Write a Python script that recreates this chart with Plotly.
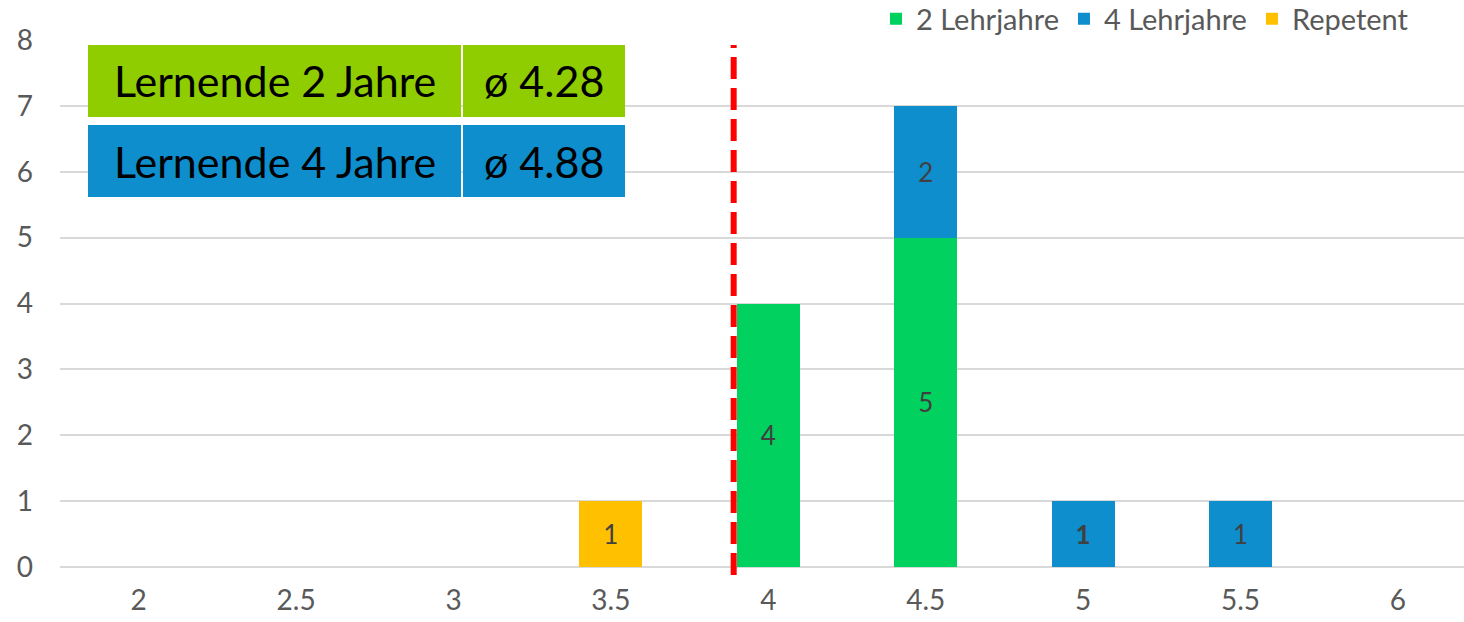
import plotly.graph_objects as go

categories = ["2", "2.5", "3", "3.5", "4", "4.5", "5", "5.5", "6"]
lehr2 = [None, None, None, None, 4, 5, None, None, None]
lehr4 = [None, None, None, None, None, 2, 1, 1, None]
repetent = [None, None, None, 1, None, None, None, None, None]
lehr4_text = ["", "", "", "", "", "2", "<b>1</b>", "1", ""]

table_rows = [
    ("Lernende 2 Jahre", "ø 4.28", "#8FCC00"),
    ("Lernende 4 Jahre", "ø 4.88", "#0E8ECD"),
]
threshold_pos = 3.78  # category-index position of the red dashed line

W, H = 1464, 622
PL, PT, PB = 60, 40, 567          # plot area in page pixels
L, T, R = PL, PT, 0
B = H - PB
PW, PH = W - L - R, PB - PT

def px(xp):
    return (xp - PL) / PW

def py(yp):
    return (PB - yp) / PH

FONT = "Lato, 'Noto Sans', sans-serif"
LABEL = "#595959"

def txt(vals):
    return ["" if v is None else str(v) for v in vals]

fig = go.Figure()
fig.add_bar(name="2 Lehrjahre", x=categories, y=lehr2, marker_color="#00D15F",
            text=txt(lehr2))
fig.add_bar(name="4 Lehrjahre", x=categories, y=lehr4, marker_color="#0E8ECD",
            text=lehr4_text)
fig.add_bar(name="Repetent", x=categories, y=repetent, marker_color="#FFC000",
            text=txt(repetent))
fig.update_traces(width=0.4, textposition="inside", insidetextanchor="middle",
                  textangle=0, constraintext="none",
                  textfont=dict(size=26, color="#404040", family=FONT),
                  marker_line_width=0, hoverinfo="skip")

shapes = []
annotations = []
rows_y = [(45, 117), (125, 197)]
cols_x = [(88, 461), (463, 625)]
for (label, val, color), (y0, y1) in zip(table_rows, rows_y):
    for (x0, x1), t in zip(cols_x, [label, val]):
        shapes.append(dict(type="rect", xref="paper", yref="paper",
                           x0=px(x0), x1=px(x1), y0=py(y1), y1=py(y0),
                           fillcolor=color, line=dict(width=0), layer="above"))
        annotations.append(dict(xref="paper", yref="paper", x=px((x0 + x1) / 2),
                                y=py((y0 + y1) / 2), text=t, showarrow=False,
                                font=dict(size=43, color="black", family=FONT),
                                xanchor="center", yanchor="middle"))

shapes.append(dict(type="line", xref="x", yref="paper", x0=threshold_pos,
                   x1=threshold_pos, y0=py(575), y1=py(45),
                   line=dict(color="#FF0000", width=6, dash="22px,9px"),
                   layer="above"))

fig.update_layout(
    width=W, height=H, margin=dict(l=L, r=R, t=T, b=B, autoexpand=False),
    barmode="stack", bargap=0.6,
    plot_bgcolor="white", paper_bgcolor="white",
    font=dict(family=FONT, size=22, color=LABEL),
    showlegend=True,
    legend=dict(orientation="h", x=px(1414), xanchor="right", y=py(19),
                yanchor="middle", font=dict(size=29, color=LABEL),
                traceorder="normal", itemwidth=30, tracegroupgap=0,
                bgcolor="rgba(0,0,0,0)"),
    xaxis=dict(type="category", range=[-0.5, 8.42], showgrid=False,
               showline=False, ticks="", tickfont=dict(size=28, color=LABEL),
               ticklabelstandoff=14, fixedrange=True),
    yaxis=dict(range=[0, 8], dtick=1, showgrid=True, gridcolor="#D9D9D9",
               gridwidth=2, zeroline=True, zerolinecolor="#D9D9D9",
               zerolinewidth=2, showline=False, ticks="",
               tickfont=dict(size=28, color=LABEL), ticklabelstandoff=26,
               fixedrange=True),
    shapes=shapes, annotations=annotations,
)

fig.write_html("out.html",
               config={"displayModeBar": False},
               post_script="document.body.style.margin='0px';"
                           "document.body.style.overflow='hidden';")
